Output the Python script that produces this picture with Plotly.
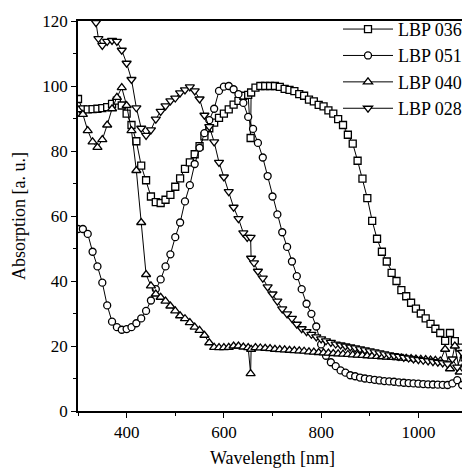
import plotly.graph_objects as go

# ---------------- data ----------------
wl_036 = [300, 310, 320, 330, 340, 350, 360, 370, 380, 390, 400, 410, 420, 430, 440, 450, 460, 470, 480, 490,
          500, 510, 520, 530, 540, 550, 560, 570, 580, 590, 600, 610, 620, 630, 640, 650, 655, 656, 665, 675,
          685, 695, 705, 715, 725, 735, 745, 755, 765, 775, 785, 795, 805, 815, 825, 835, 845, 855, 865, 875,
          885, 895, 905, 915, 925, 935, 945, 955, 965, 975, 985, 995, 1005, 1015, 1025, 1035, 1045, 1055, 1065,
          1075, 1085, 1095]
abs_036 = [96, 92.8, 92.8, 92.9, 93, 93.2, 93.5, 94.5, 95.5, 94, 91.5, 88, 83, 75.5, 71, 66, 64.3, 64, 65, 66.5,
           69, 71.6, 74.5, 76.5, 79, 81.5, 84.5, 87, 88.7, 90.2, 91.5, 92.8, 94.3, 95.4, 97, 97.3, 84, 98, 99.5, 100,
           100, 100, 100, 99.7, 99.1, 98.8, 98.4, 97.5, 97, 95.8, 95.3, 94.2, 93.7, 92.5, 91.5, 89.8, 88, 85, 82.3, 77,
           71.5, 65.5, 58.5, 53, 49, 46, 42.5, 40, 37.2, 35.3, 33.3, 31.5, 30, 28.5, 26.8, 25.3, 24, 21.6, 24,
           21.5, 19.5, 16.5]

wl_051 = [300, 310, 320, 330, 340, 350, 360, 370, 380, 390, 400, 410, 420, 430, 440, 450, 460, 470, 480, 490,
          500, 510, 520, 530, 540, 550, 560, 570, 580, 590, 600, 610, 620, 630, 640, 650, 660, 670, 680, 690,
          700, 710, 720, 730, 740, 750, 760, 770, 780, 790, 800, 810, 820, 830, 840, 850, 860, 870, 880, 890,
          900, 910, 920, 930, 940, 950, 960, 970, 980, 990, 1000, 1010, 1020, 1030, 1040, 1050, 1060, 1070,
          1080, 1090, 1100]
abs_051 = [56, 56, 54.5, 49, 44.5, 39.5, 32.5, 27.5, 25.8, 25, 25.2, 25.8, 27, 28.5, 30.8, 34, 37.5, 40.5, 44.5, 48.2,
           53.5, 58, 64.5, 69.5, 76, 81, 85.5, 89.5, 93, 98.5, 99.8, 100, 99, 97.5, 94.8, 90.5, 86.8, 82.5, 78, 72.3,
           66, 60.5, 55, 50.5, 46, 41.5, 37.5, 33, 29.9, 26, 20.5, 17, 15, 13.8, 12.5, 11.8, 11, 10.7, 10.3, 10,
           9.8, 9.6, 9.4, 9.2, 9.1, 9, 8.8, 8.7, 8.6, 8.5, 8.4, 8.3, 8.2, 8.15, 8.1, 8.05, 8, 8.5,
           9.5, 8, 7.5]

wl_040 = [300, 310, 320, 330, 340, 350, 360, 370, 380, 390, 400, 410, 420, 430, 440, 450, 460, 470, 480, 490,
          500, 510, 520, 530, 540, 550, 560, 570, 580, 590, 600, 610, 620, 630, 640, 650, 655, 656, 665, 675,
          685, 695, 705, 715, 725, 735, 745, 755, 765, 775, 785, 795, 805, 815, 825, 835, 845, 855, 865, 875,
          885, 895, 905, 915, 925, 935, 945, 955, 965, 975, 985, 995, 1005, 1015, 1025, 1035, 1045, 1055, 1065,
          1075, 1085, 1095]
abs_040 = [92.7, 91.3, 86.3, 82.8, 81.1, 83.5, 88, 93, 96.5, 99.5, 94, 86.3, 74, 58, 42, 38.5, 36, 35, 33.8, 32.3,
           30.8, 29.3, 28.4, 27.2, 25.8, 24.8, 23.3, 21, 19.6, 19.5, 19.5, 19.6, 20, 20, 19.7, 19.5, 11.5, 19, 19.5, 19.4,
           19.3, 19.2, 19, 18.9, 18.8, 18.7, 18.6, 18.5, 18.4, 18.2, 18.1, 18, 17.9, 17.8, 17.7, 17.6, 17.5, 17.4, 17.3, 17.2,
           17.1, 17, 16.9, 16.8, 16.7, 16.6, 16.5, 16.4, 16.3, 16.2, 16.1, 16, 15.9, 15.8, 15.7, 15.6, 15.4, 19, 13,
           20, 12, 17]

wl_028 = [337, 342, 350, 360, 370, 380, 390, 400, 410, 420, 430, 440, 450, 460, 470, 480, 490, 500, 510, 520,
          530, 540, 550, 560, 570, 580, 590, 600, 610, 620, 630, 640, 648, 655, 656, 662, 670, 680, 690, 700,
          710, 720, 730, 740, 750, 760, 770, 780, 790, 800, 810, 820, 830, 840, 850, 860, 870, 880, 890, 900,
          910, 920, 930, 940, 950, 960, 970, 980, 990, 1000, 1010, 1020, 1030, 1040, 1050, 1060, 1070, 1080,
          1090, 1100]
abs_028 = [119.5, 114.6, 112.5, 113.7, 114, 113.7, 111, 107, 102, 93.3, 87, 84.8, 86.5, 89.8, 92.2, 93.9, 95.4, 96.3, 97.9, 98.8,
           99.7, 98.5, 96, 91, 87.5, 82.8, 76.5, 72, 67.5, 62.7, 59.2, 54.8, 53.4, 53.4, 47, 45.6, 43, 40.9, 38.2, 36,
           33.8, 31.4, 29.9, 28.5, 26.7, 25.3, 24.4, 23.6, 22.8, 22.2, 21.6, 21.1, 20.6, 20.3, 20, 19.7, 19.4, 19.1, 18.8, 18.5,
           18.2, 17.9, 17.6, 17.3, 17, 16.8, 16.5, 16.3, 16, 15.8, 15.6, 15.4, 15.2, 15, 14.8, 14.5, 16, 13.5,
           18, 14]

series = [
    ("LBP 036", wl_036, abs_036, "square", 7),
    ("LBP 051", wl_051, abs_051, "circle", 7),
    ("LBP 040", wl_040, abs_040, "triangle-up", 8),
    ("LBP 028", wl_028, abs_028, "triangle-down", 8),
]

fig = go.Figure()
for name, x, y, sym, sz in series:
    fig.add_trace(go.Scatter(
        x=x, y=y, name=name, mode="lines+markers", legendgroup=name,
        line=dict(color="black", width=1),
        marker=dict(symbol=sym, size=sz, color="white",
                    line=dict(color="black", width=1.3)),
    ))

serif = "Liberation Serif"
# the page body adds an 8 px offset, so the figure is sized to fit the window
fig.update_layout(
    width=462, height=463,
    margin=dict(l=70, r=1, t=13, b=60),
    plot_bgcolor="white", paper_bgcolor="white",
    font=dict(family=serif, size=17, color="black"),
    legend=dict(x=1, xanchor="right", y=1.026, yanchor="top",
                bgcolor="rgba(0,0,0,0)", tracegroupgap=0, itemwidth=50,
                font=dict(family=serif, size=18, color="black")),
)
fig.update_xaxes(
    range=[300, 1100], tick0=0, dtick=200,
    ticks="outside", ticklen=5, tickwidth=1.2, tickcolor="black",
    showline=True, linecolor="black", linewidth=1.5, mirror=True,
    showgrid=False, zeroline=False,
    minor=dict(dtick=100, ticks="outside", ticklen=3, tickcolor="black", showgrid=False),
    title=dict(text="Wavelength [nm]", font=dict(size=18), standoff=10),
)
fig.update_yaxes(
    range=[0, 120], tick0=0, dtick=20,
    ticks="outside", ticklen=5, tickwidth=1.2, tickcolor="black",
    showline=True, linecolor="black", linewidth=1.5, mirror=True,
    showgrid=False, zeroline=False,
    minor=dict(dtick=10, ticks="outside", ticklen=3, tickcolor="black", showgrid=False),
    title=dict(text="Absorption [a. u.]", font=dict(size=18), standoff=12),
)

fig.write_html("out.html")
